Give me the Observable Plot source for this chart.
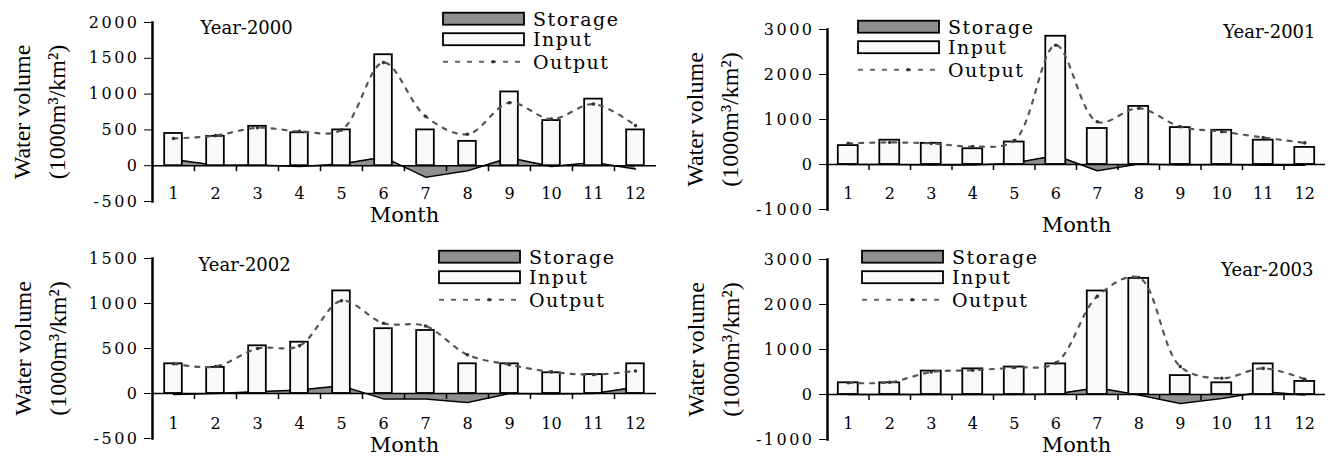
<!DOCTYPE html>
<html><head><meta charset="utf-8">
<script src="https://cdn.jsdelivr.net/npm/d3@7"></script>
<script src="https://cdn.jsdelivr.net/npm/@observablehq/plot@0.6"></script>
<style>
body{margin:0;background:#fff;}
#wrap{position:relative;width:1332px;height:463px;overflow:hidden;background:#fff;}
.panel{position:absolute;}
.panel svg{overflow:visible;}
</style></head><body><div id="wrap"></div>
<script>
// ---- data ----
const months = [1,2,3,4,5,6,7,8,9,10,11,12];

const input2000   = [450, 410, 550, 460, 500, 1550, 500, 340, 1030, 630, 930, 500];
const output2000  = [380, 420, 530, 480, 500, 1440, 690, 440, 880, 650, 860, 560];
const storage2000 = [85, 5, 10, -10, 25, 120, -160, -70, 110, -10, 45, -45];

const input2001   = [420, 540, 470, 350, 500, 2850, 800, 1290, 820, 760, 540, 380];
const output2001  = [470, 490, 470, 400, 530, 2650, 950, 1250, 840, 730, 600, 480];
const storage2001 = [0, 0, -10, -10, 30, 200, -140, 10, -10, 0, -15, -15];

const input2002   = [330, 290, 530, 570, 1140, 720, 700, 330, 330, 230, 210, 330];
const output2002  = [330, 300, 500, 530, 1030, 780, 750, 430, 320, 240, 210, 250];
const storage2002 = [-10, 0, 20, 40, 85, -60, -60, -100, 0, -5, 0, 70];

const input2003   = [260, 260, 520, 570, 610, 680, 2300, 2580, 420, 260, 680, 290];
const output2003  = [260, 270, 500, 540, 600, 700, 2180, 2600, 620, 360, 580, 340];
const storage2003 = [0, 0, 0, 0, 0, 10, 150, -10, -200, -90, 60, -10];

const ticksA = [-500, 0, 500, 1000, 1500, 2000];
const ticksB = [-1000, 0, 1000, 2000, 3000];
const ticksC = [-500, 0, 500, 1000, 1500];

const years = ["Year-2000", "Year-2001", "Year-2002", "Year-2003"];
const legendLabels = ["Storage", "Input", "Output"];
const yLabel = "Water volume\n(1000m\u00B3/km\u00B2)";
const xLabel = "Month";

// ---- layout ----
const panels = [
  {year: years[0], input: input2000, output: output2000, storage: storage2000, ticks: ticksA,
   left: 0, top: 0, w: 666, h: 231, ml: 152, mr: 10, mt: 22, mb: 30, half: 0.21,
   monthDy: 28, titleDy: 13.5, yearAnchor: "top-left", yearDx: 48, yearDy: 6, labelDx: -116,
   lg: {x: 443, y: 12.7}},
  {year: years[1], input: input2001, output: output2001, storage: storage2001, ticks: ticksB,
   left: 666, top: 0, w: 666, h: 231, ml: 161, mr: 7, mt: 29, mb: 22, half: 0.24,
   monthDy: 29, titleDy: 16, yearAnchor: "top-right", yearDx: -10, yearDy: 2.5, labelDx: -118,
   lg: {x: 192, y: 20.7}},
  {year: years[2], input: input2002, output: output2002, storage: storage2002, ticks: ticksC,
   left: 0, top: 231, w: 666, h: 232, ml: 152, mr: 10, mt: 27, mb: 25, half: 0.21,
   monthDy: 30, titleDy: 6.5, yearAnchor: "top-left", yearDx: 46, yearDy: 7, labelDx: -115,
   lg: {x: 439, y: 19.7}},
  {year: years[3], input: input2003, output: output2003, storage: storage2003, ticks: ticksB,
   left: 666, top: 231, w: 666, h: 232, ml: 161, mr: 7, mt: 28, mb: 24, half: 0.24,
   monthDy: 29, titleDy: 6, yearAnchor: "top-right", yearDx: -12, yearDy: 10.5, labelDx: -117,
   lg: {x: 196, y: 19.7}}
];

const WIDE = "'DejaVu Serif', serif";
const TIMES = "'Liberation Serif', serif";
const INK = "#000";

function drawLegend(svg, L) {
  const g = d3.select(svg).append("g")
    .attr("font-family", WIDE).attr("font-size", 19).attr("fill", INK)
    .attr("text-anchor", "start")
    .style("font-family", WIDE);
  const sw = 81, sh = 12;
  g.append("rect").attr("x", L.x).attr("y", L.y).attr("width", sw).attr("height", sh)
    .attr("fill", "#8f8f8f").attr("stroke", INK).attr("stroke-width", 1.8);
  g.append("rect").attr("x", L.x).attr("y", L.y + 20.5).attr("width", sw).attr("height", sh)
    .attr("fill", "#fafafa").attr("stroke", INK).attr("stroke-width", 1.8);
  g.append("line").attr("x1", L.x).attr("x2", L.x + sw).attr("y1", L.y + 49).attr("y2", L.y + 49)
    .attr("stroke", "#666").attr("stroke-width", 2).attr("stroke-dasharray", "5,7");
  g.append("circle").attr("cx", L.x + sw * 0.62).attr("cy", L.y + 49).attr("r", 1.8).attr("fill", "#333");
  const cy = [L.y + sh / 2, L.y + 20.5 + sh / 2, L.y + 49];
  g.selectAll("text.lg").data(legendLabels).join("text")
    .attr("class", "lg")
    .attr("text-anchor", "start")
    .attr("x", L.x + 90).attr("y", (d, i) => cy[i] + 7).text(d => d)
    .style("letter-spacing", "1.5px");
}

const wrap = document.getElementById("wrap");

panels.forEach((p) => {
  const rows = months.map((m, i) => ({month: m, input: p.input[i], output: p.output[i], storage: p.storage[i]}));
  const boundaries = months.slice(1).map(m => m - 0.5);
  const svg = Plot.plot({
    width: p.w, height: p.h,
    marginLeft: p.ml, marginRight: p.mr, marginTop: p.mt, marginBottom: p.mb,
    style: {fontFamily: WIDE, fontSize: "16px", color: INK, background: "transparent", overflow: "visible"},
    x: {domain: [0.5, 12.5], axis: null},
    y: {domain: [p.ticks[0], p.ticks[p.ticks.length - 1]], ticks: p.ticks, tickFormat: d => String(d),
        tickSize: 8, tickPadding: 5, label: null},
    marks: [
      Plot.areaY(rows, {x: "month", y: "storage", fill: "#8f8f8f"}),
      Plot.lineY(rows, {x: "month", y: "storage", stroke: INK, strokeWidth: 1.5}),
      Plot.rectY(rows, {x1: d => d.month - p.half, x2: d => d.month + p.half, y: "input",
                        fill: "#fafafa", stroke: INK, strokeWidth: 1.8}),
      Plot.ruleY([0], {stroke: INK, strokeWidth: 1.6}),
      Plot.ruleX(boundaries, {x: d => d, y1: 0, y2: 0, insetBottom: -6, stroke: INK, strokeWidth: 1.5}),
      Plot.lineY(rows, {x: "month", y: "output", stroke: "#555", strokeWidth: 2.2,
                        strokeDasharray: "4,7", curve: "catmull-rom"}),
      Plot.dot(rows, {x: "month", y: "output", r: 1.8, fill: "#333"}),
      Plot.frame({anchor: "left", stroke: INK, strokeWidth: 2.5}),
      Plot.text(rows, {x: "month", y: 0, text: d => String(d.month), dy: p.monthDy,
                       fontSize: 16, fontFamily: WIDE, fill: INK, ariaLabel: "month-labels"}),
      Plot.text([xLabel], {text: d => d, frameAnchor: "bottom", dy: p.titleDy, lineAnchor: "middle",
                           textAnchor: "middle", fontSize: 21, fontFamily: WIDE, fill: INK, ariaLabel: "x-title"}),
      Plot.text([p.year], {text: d => d, frameAnchor: p.yearAnchor, dx: p.yearDx, dy: p.yearDy,
                           lineAnchor: "middle", textAnchor: p.yearAnchor === "top-left" ? "start" : "end",
                           fontSize: 18, fontFamily: WIDE, fill: INK, ariaLabel: "year-label"}),
      Plot.text([yLabel], {text: d => d, frameAnchor: "left", rotate: -90, dx: p.labelDx,
                           lineAnchor: "middle", textAnchor: "middle", lineHeight: 1.45,
                           fontSize: 24, fontFamily: TIMES, fill: INK, ariaLabel: "y-title"})
    ]
  });
  const div = document.createElement("div");
  div.className = "panel";
  div.style.left = p.left + "px";
  div.style.top = p.top + "px";
  div.appendChild(svg);
  wrap.appendChild(div);
  const s = d3.select(svg);
  s.selectAll('g[aria-label="y-axis tick label"] text').style("letter-spacing", "2.5px");
  s.selectAll('g[aria-label="x-title"] text').style("letter-spacing", "3px");
  s.selectAll('g[aria-label="year-label"] text').style("letter-spacing", "2.5px");
  drawLegend(svg, p.lg);
});
</script>
</body></html>
